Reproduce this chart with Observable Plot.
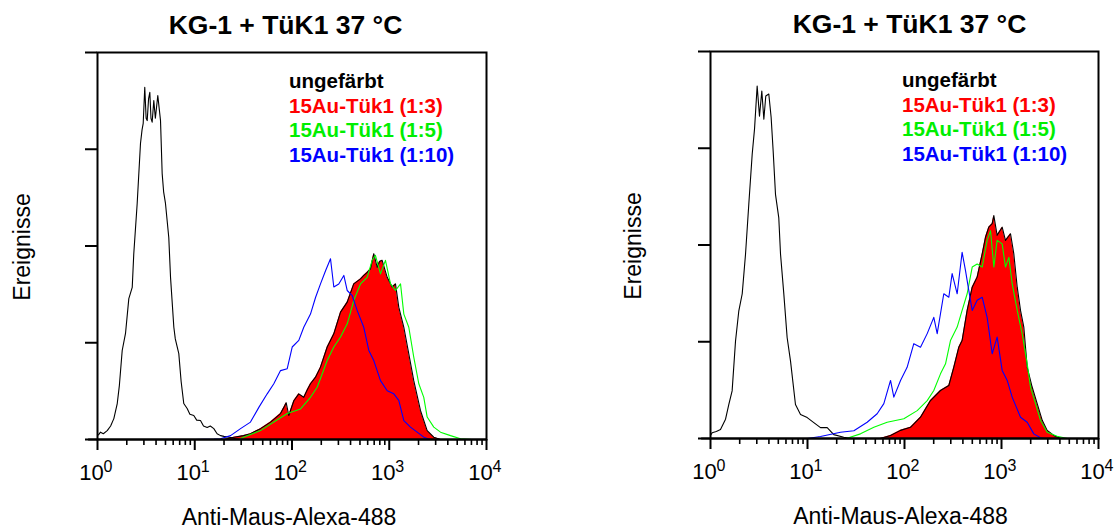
<!DOCTYPE html>
<html><head><meta charset="utf-8">
<script src="https://cdn.jsdelivr.net/npm/d3@7"></script>
<script src="https://cdn.jsdelivr.net/npm/@observablehq/plot@0.6"></script>
<style>
body{margin:0;background:#fff;}
#wrap{display:flex;width:1119px;height:531px;overflow:hidden;}
</style></head><body><div id="wrap"></div>
<script>
// ---------- labels ----------
const titleText = "KG-1 + TüK1 37 °C";
const xLabel = "Anti-Maus-Alexa-488";
const yLabel = "Ereignisse";
const legendLabels = ["ungefärbt", "15Au-Tük1 (1:3)", "15Au-Tük1 (1:5)", "15Au-Tük1 (1:10)"];
const legendColors = ["#000000", "#ff0000", "#00ee00", "#0000ff"];
const decades = [0, 1, 2, 3, 4];          // x tick exponents (10^0 … 10^4)
const yTicks = [0, 25, 50, 75, 100];      // unlabeled y ticks

// ---------- data: [log10 intensity, events] ----------
// left panel
const left_ungefaerbt = [[0.01,1.2],[0.031,1.9],[0.06,1.5],[0.10,2.3],[0.135,3.5],[0.168,5.4],[0.203,9.3],[0.225,14],[0.254,23],[0.288,27.4],[0.322,36.4],[0.357,39.3],[0.373,48],[0.408,61],[0.442,76.5],[0.458,80],[0.470,81.7],[0.486,91],[0.50,83],[0.511,82.4],[0.525,88],[0.538,89.7],[0.55,83],[0.562,82],[0.579,87.6],[0.595,83],[0.620,88.9],[0.648,82.4],[0.665,68.7],[0.680,64],[0.699,61],[0.733,52.2],[0.751,41.9],[0.785,29],[0.80,26],[0.836,22.2],[0.860,15],[0.887,9.3],[0.922,8],[0.95,6.5],[0.990,6.2],[1.02,5],[1.059,4.9],[1.09,3.5],[1.128,3.1],[1.16,3.5],[1.196,2.8],[1.23,1.5],[1.265,1],[1.3,0.8],[1.368,0.5],[1.42,0.2],[1.5,0]];
const left_1_3 = [[1.30,0],[1.402,0.6],[1.50,1.0],[1.573,1.5],[1.676,2.8],[1.779,4.5],[1.882,6.7],[1.916,8.3],[1.94,9.5],[1.967,6.2],[2.019,10],[2.070,11.8],[2.121,10.9],[2.16,13],[2.190,14.4],[2.242,16.1],[2.293,18.7],[2.362,23.9],[2.430,27.3],[2.499,32.9],[2.568,35.5],[2.635,40.2],[2.704,41.5],[2.738,42.4],[2.773,43.2],[2.807,44.1],[2.841,48],[2.876,44.5],[2.90,46],[2.927,46.3],[2.979,41.9],[3.030,39.4],[3.064,40.2],[3.098,34.2],[3.150,29],[3.201,22.1],[3.252,15.2],[3.321,7.5],[3.390,2.3],[3.458,0.6],[3.527,0],[3.6,0]];
const left_1_5 = [[1.45,0],[1.50,0.6],[1.676,2.3],[1.813,4.5],[1.951,6.7],[2.088,7.9],[2.190,10.9],[2.259,13.5],[2.362,20.4],[2.430,23.9],[2.499,26.5],[2.568,29.9],[2.635,35.9],[2.704,40.2],[2.773,41.9],[2.824,46.3],[2.858,47.6],[2.910,42.8],[2.961,46.3],[3.013,40.2],[3.064,38.5],[3.116,40.2],[3.150,32.4],[3.201,29],[3.252,21.3],[3.304,14.4],[3.355,10.9],[3.390,5.8],[3.458,3.2],[3.527,1.9],[3.630,1],[3.733,0.2],[3.85,0]];
const left_1_10 = [[1.0,0],[1.20,0.1],[1.265,0.2],[1.368,1],[1.471,2.8],[1.573,4.5],[1.659,8.3],[1.745,11.8],[1.813,14.4],[1.882,17.8],[1.951,18.3],[2.002,23.9],[2.070,25.6],[2.121,29],[2.190,32.4],[2.242,36.7],[2.293,40.2],[2.345,43.6],[2.396,46.7],[2.430,39.4],[2.481,40.2],[2.533,42.4],[2.568,38.5],[2.619,37.2],[2.671,33.3],[2.738,29],[2.790,23],[2.841,20.4],[2.910,15.2],[2.979,12.6],[3.047,11.8],[3.098,10.1],[3.150,4.9],[3.218,3.2],[3.287,1.9],[3.355,0.6],[3.42,0]];
// right panel
const right_ungefaerbt = [[0.005,1],[0.017,1.5],[0.06,1.8],[0.103,2.3],[0.155,5],[0.189,8.8],[0.223,12.3],[0.258,25.2],[0.292,33],[0.327,37.4],[0.361,47.6],[0.395,60.6],[0.430,73.5],[0.454,80],[0.481,91.1],[0.505,83.3],[0.529,89.8],[0.550,82.5],[0.570,88.5],[0.601,89],[0.625,83],[0.646,74.3],[0.670,63.1],[0.704,57],[0.722,47.6],[0.756,37.3],[0.790,26.1],[0.825,20],[0.876,8.8],[0.928,6.2],[0.997,5.4],[1.065,4.1],[1.134,2.8],[1.203,2.8],[1.271,1],[1.374,0.3],[1.45,0]];
const right_1_3 = [[1.75,0],[1.856,0.8],[1.959,2.1],[2.062,2.9],[2.165,5.5],[2.268,9.8],[2.371,12.4],[2.457,13.7],[2.508,18.4],[2.560,23.6],[2.594,25.3],[2.646,33.1],[2.698,39.1],[2.749,41.7],[2.801,47.7],[2.835,52],[2.869,54.6],[2.904,55.5],[2.921,57.6],[2.955,52.5],[3.007,54.6],[3.041,51.2],[3.093,52.9],[3.127,47.7],[3.162,39.1],[3.196,33.1],[3.230,28.8],[3.265,18.4],[3.316,13.3],[3.368,9],[3.420,4.7],[3.471,2.1],[3.539,0.8],[3.61,0]];
const right_1_5 = [[1.40,0],[1.546,1.2],[1.684,2.9],[1.821,4.2],[1.993,5.1],[2.131,7.2],[2.234,9.8],[2.302,12.4],[2.371,16.7],[2.423,19.3],[2.474,25.3],[2.543,28.8],[2.594,33.1],[2.646,37.4],[2.698,44.3],[2.749,45.1],[2.801,44.3],[2.852,51.2],[2.887,53.7],[2.921,44.3],[2.955,51.2],[3.007,50.3],[3.041,44.3],[3.076,46.8],[3.110,40],[3.162,33.1],[3.213,27.1],[3.265,19.3],[3.299,13.3],[3.351,9],[3.402,4.7],[3.471,1.6],[3.574,0.6],[3.68,0]];
const right_1_10 = [[1.00,0],[1.134,0.5],[1.340,1.6],[1.478,2.0],[1.615,4.2],[1.718,6.4],[1.787,9],[1.856,15],[1.890,10.7],[1.959,15],[2.027,18.4],[2.096,24.5],[2.165,23.6],[2.234,27.1],[2.302,31.3],[2.337,27.1],[2.405,37.4],[2.457,36.5],[2.491,42.6],[2.543,37.4],[2.594,48.1],[2.629,43.4],[2.663,38.2],[2.698,33.1],[2.749,35.7],[2.801,36.5],[2.852,31.3],[2.904,21.9],[2.955,26.2],[3.007,17.6],[3.059,15],[3.110,10.7],[3.196,5.5],[3.265,4.2],[3.333,1.2],[3.402,0.2],[3.45,0]];

const FONT = '"Liberation Sans", Arial, Helvetica, sans-serif';
const rows = arr => arr.map(([e, c]) => ({x: 10 ** e, y: c}));
const minorTicks = [];
for (const d of decades.slice(0, -1)) for (let k = 2; k <= 9; k++) minorTicks.push(k * 10 ** d);

function panel(s, L) {
  const r3 = rows(s.r3), r0 = rows(s.r0), r5 = rows(s.r5), r10 = rows(s.r10);
  const T = {lineAnchor: "middle", fill: "#000"};
  const marks = [
    Plot.areaY(r3, {x: "x", y: "y", fill: "#ff0000"}),
    Plot.lineY(r3, {x: "x", y: "y", stroke: "#000", strokeWidth: 1.1}),
    Plot.lineY(r0, {x: "x", y: "y", stroke: "#000", strokeWidth: 1.1}),
    Plot.lineY(r5, {x: "x", y: "y", stroke: "#00ff00", strokeWidth: 1.1}),
    Plot.lineY(r10, {x: "x", y: "y", stroke: "#0000ff", strokeWidth: 1.1}),
    Plot.frame({stroke: "#000", strokeWidth: 2}),
    Plot.ruleY([0], {x1: 0.81, x2: 10000, stroke: "#000", strokeWidth: 2}),
    Plot.axisY({ticks: yTicks, tickSize: 12, tickFormat: () => "", label: null, strokeWidth: 2}),
    Plot.axisX({ticks: decades.map(d => 10 ** d), tickSize: 11, tickFormat: () => "", label: null, strokeWidth: 2}),
    Plot.axisX({ticks: minorTicks, tickSize: 6, tickFormat: () => "", label: null, strokeWidth: 1.6}),
    Plot.text(decades, {...T, x: d => 10 ** d, frameAnchor: "bottom", text: () => "10", dx: -6, dy: 33, fontSize: 22}),
    Plot.text(decades, {...T, x: d => 10 ** d, frameAnchor: "bottom", text: d => String(d), dx: 10.5, dy: 27.5, fontSize: 16}),
    Plot.text([xLabel], {...T, frameAnchor: "bottom", dx: L.xlabDx, dy: 78.5, fontSize: 23}),
    Plot.text([yLabel], {...T, frameAnchor: "left", textAnchor: "middle", rotate: -90, dx: L.ylabDx, dy: 1, fontSize: 23}),
    Plot.text([titleText], {...T, frameAnchor: "top", dx: L.titleDx, dy: -26.5, fontSize: 26.5, fontWeight: "bold"}),
    ...legendLabels.map((t, i) => Plot.text([t], {...T, frameAnchor: "top-left", textAnchor: "start", dx: 191.5, dy: [29, 53.5, 78, 102.5][i], fontSize: 20.5, fontWeight: "bold", fill: legendColors[i]}))
  ];
  return Plot.plot({
    width: L.width, height: 531,
    marginLeft: L.ml, marginRight: L.mr, marginTop: L.mt, marginBottom: L.mb,
    x: {type: "log", domain: [1, 10000]},
    y: {domain: [0, 100]},
    style: {fontFamily: FONT, background: "#fff", overflow: "visible"},
    marks
  });
}

const wrap = document.getElementById("wrap");
wrap.append(panel({r0: left_ungefaerbt, r3: left_1_3, r5: left_1_5, r10: left_1_10},
  {width: 560, ml: 97, mr: 74, mt: 52, mb: 92, xlabDx: -3, ylabDx: -75, titleDx: -6.5}));
wrap.append(panel({r0: right_ungefaerbt, r3: right_1_3, r5: right_1_5, r10: right_1_10},
  {width: 559, ml: 150, mr: 21, mt: 51, mb: 93, xlabDx: -4, ylabDx: -77, titleDx: 5}));
</script></body></html>
